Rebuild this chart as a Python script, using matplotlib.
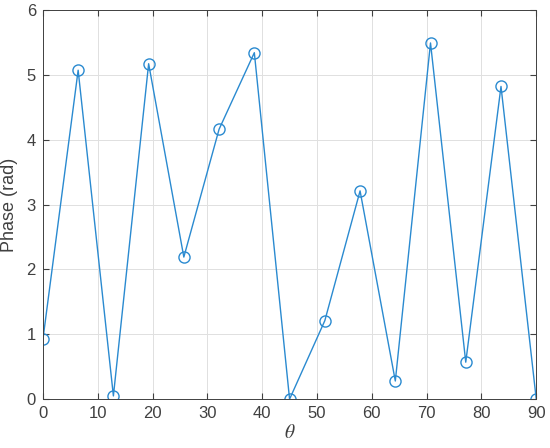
import matplotlib.pyplot as plt

# sample angles and measured phase
theta = [0, 6.43, 12.86, 19.29, 25.71, 32.14, 38.57, 45,
         51.43, 57.86, 64.29, 70.71, 77.14, 83.57, 90]
phase = [0.92, 5.07, 0.05, 5.17, 2.19, 4.16, 5.34, 0.0,
         1.21, 3.21, 0.28, 5.49, 0.57, 4.82, 0.0]
xticks = [0, 10, 20, 30, 40, 50, 60, 70, 80, 90]
yticks = [0, 1, 2, 3, 4, 5, 6]

plt.rcParams['font.family'] = ['Liberation Sans', 'DejaVu Sans']
plt.rcParams['mathtext.fontset'] = 'stix'

fig = plt.figure(figsize=(5.5, 4.48), dpi=100)
ax = fig.add_axes([0.078, 0.109, 0.897, 0.869])

ax.plot(theta, phase, color='#2a8ad0', linewidth=1.0, marker='o',
        markersize=8, markerfacecolor='none', markeredgewidth=1.0)

ax.set_xlim(0, 90)
ax.set_ylim(0, 6)
ax.set_xticks(xticks)
ax.set_yticks(yticks)
ax.grid(True, color='#e0e0e0', linewidth=0.7)
ax.set_axisbelow(True)
ax.tick_params(direction='in', length=4, colors='#404040', labelsize=12,
               top=True, right=True, labeltop=False, labelright=False, pad=5)
for s in ax.spines.values():
    s.set_color('#404040')
    s.set_linewidth(0.7)

ax.set_xlabel(r'$\theta$', fontsize=14, color='#404040', labelpad=2)
ax.set_ylabel('Phase (rad)', fontsize=13, color='#404040', labelpad=6)

fig.savefig('out.png', dpi=100)
